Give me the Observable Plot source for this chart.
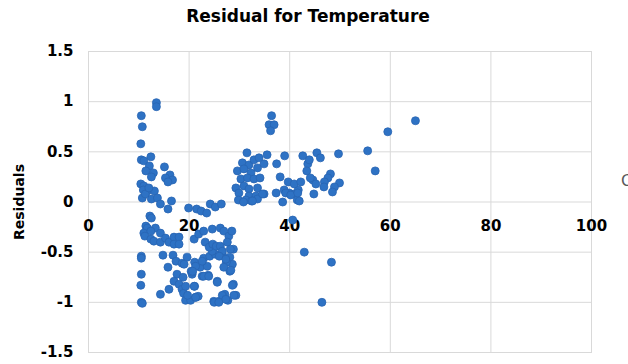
<!DOCTYPE html>
<html>
<head>
<meta charset="utf-8">
<script src="https://cdn.jsdelivr.net/npm/d3@7"></script>
<script src="https://cdn.jsdelivr.net/npm/@observablehq/plot@0.6"></script>
<style>
  html, body { margin: 0; padding: 0; background: #fff; width: 628px; height: 364px; overflow: hidden; }
  #title { position: absolute; left: 0; top: 6px; width: 616px; text-align: center;
           font: bold 17px "DejaVu Sans", sans-serif; color: #000; line-height: 20px; }
  #chart { position: absolute; left: 0; top: 36px; }
  #cut { position: absolute; left: 621px; top: 171px; font: 16px "DejaVu Sans", sans-serif; color: #595959; }
</style>
</head>
<body>
<div id="title">Residual for Temperature</div>
<div id="chart"></div>
<div id="cut">C</div>
<script>
const temperature = [
  13.5,13.5,10.5,10.7,10.4,10.5,11.0,12.4,12.1,11.4,12.9,12.5,15.1,16.2,15.3,16.7,15.8,10.4,11.0,11.7,13.1,10.9,10.7,12.5,13.7,14.3,16.5,15.8,11.3,12.0,
  19.9,21.5,22.4,23.5,24.2,25.2,26.4,
  12.2,12.5,11.4,11.7,13.3,11.0,12.4,14.3,11.2,12.4,13.0,14.3,15.3,16.0,17.0,18.0,17.0,18.0,
  10.5,10.5,10.5,10.4,10.5,10.7,
  14.8,16.8,15.8,17.4,18.6,19.6,17.6,18.8,17.0,18.0,16.0,14.3,18.6,18.9,19.3,20.3,21.3,21.8,21.1,20.6,20.4,22.6,23.8,21.1,22.2,23.6,22.9,24.1,25.2,24.6,25.6,24.9,25.9,27.1,27.7,28.8,29.3,28.1,28.6,28.1,27.4,26.6,28.8,
  21.0,21.9,22.9,24.6,23.2,24.0,24.7,25.4,26.2,26.9,27.9,28.5,27.6,26.2,26.6,28.2,26.0,27.3,26.9,28.3,19.0,20.6,21.3,22.6,22.9,23.9,25.6,21.0,28.6,26.6,27.3,28.9,25.0,25.9,19.3,19.7,21.3,20.7,
  31.5,35.5,30.6,31.9,32.9,33.9,29.6,30.9,32.3,33.6,34.9,30.3,31.6,32.9,34.1,29.3,30.9,31.9,33.6,29.9,31.9,33.3,34.9,29.8,31.3,32.4,33.6,35.9,36.9,36.2,36.4,34.6,32.6,30.8,
  37.3,38.9,39.9,40.9,41.7,38.6,37.4,39.0,38.1,39.7,40.9,42.2,41.5,42.6,43.6,43.9,44.6,45.2,44.8,45.4,46.1,43.4,44.1,48.1,47.6,46.9,46.8,49.9,48.9,48.5,49.7,39.2,40.2,41.6,41.9,
  55.5,57.0,59.5,65.0,
  40.6,42.9,48.3,46.4
];
const residual = [
  0.99,0.95,0.86,0.75,0.58,0.42,0.41,0.45,0.36,0.31,0.29,0.25,0.35,0.27,0.24,0.22,0.20,0.18,0.16,0.11,0.11,0.12,0.04,0.03,0.04,-0.02,0.01,-0.07,0.08,0.14,
  -0.06,-0.07,-0.09,-0.11,-0.02,-0.05,-0.02,
  -0.14,-0.16,-0.24,-0.26,-0.26,-0.31,-0.29,-0.31,-0.34,-0.37,-0.39,-0.40,-0.36,-0.40,-0.35,-0.35,-0.42,-0.42,
  -0.54,-0.56,-0.72,-0.83,-1.00,-1.01,
  -0.53,-0.53,-0.65,-0.59,-0.61,-0.55,-0.72,-0.75,-0.79,-0.82,-0.87,-0.92,-0.87,-0.91,-0.98,-0.98,-0.95,-0.94,-0.84,-0.72,-0.69,-0.74,-0.73,-0.60,-0.65,-0.64,-0.56,-0.54,-0.52,-0.49,-0.79,-0.99,-0.99,-0.92,-0.98,-0.82,-0.93,-0.69,-0.62,-0.55,-0.60,-0.52,-0.47,
  -0.37,-0.32,-0.29,-0.27,-0.40,-0.45,-0.42,-0.44,-0.26,-0.29,-0.34,-0.29,-0.40,-0.44,-0.49,-0.47,-0.54,-0.57,-0.65,-0.68,-0.62,-0.70,-0.64,-0.59,-0.74,-0.74,-0.80,-0.84,-0.83,-0.93,-0.97,-0.93,-1.00,-1.00,-0.84,-0.93,-0.95,-0.69,
  0.49,0.47,0.39,0.37,0.42,0.44,0.31,0.33,0.29,0.34,0.38,0.23,0.24,0.23,0.24,0.14,0.16,0.13,0.14,0.09,0.06,0.06,0.08,0.02,0.02,0.01,0.03,0.77,0.77,0.71,0.86,0.08,0.01,0.00,
  0.09,0.12,0.09,0.08,0.12,0.00,0.38,0.46,0.25,0.20,0.18,0.20,0.02,0.46,0.38,0.42,0.22,0.18,0.08,0.49,0.44,0.31,0.24,0.28,0.24,0.20,0.15,0.19,0.15,0.10,0.48,0.09,0.07,0.09,0.01,
  0.51,0.31,0.70,0.81,
  -0.18,-0.50,-0.60,-1.00
];
const xTicks = [0, 20, 40, 60, 80, 100];
const yTicks = [-1.5, -1, -0.5, 0, 0.5, 1, 1.5];
const yTitle = ["Residuals"];

const points = temperature.map((t, i) => ({t, r: residual[i]}));
const gridColor = "#d9d9d9";

const chart = Plot.plot({
  width: 628,
  height: 328,
  marginLeft: 88,
  marginRight: 37,
  marginTop: 15,
  marginBottom: 12,
  style: {fontFamily: "DejaVu Sans, sans-serif", background: "#fff", overflow: "visible"},
  x: {domain: [0, 100], ticks: xTicks, axis: null},
  y: {domain: [-1.5, 1.5], ticks: yTicks},
  marks: [
    Plot.gridX(xTicks, {stroke: gridColor, strokeOpacity: 1, strokeWidth: 1}),
    Plot.gridY(yTicks, {stroke: gridColor, strokeOpacity: 1, strokeWidth: 1}),
    Plot.frame({stroke: gridColor, strokeWidth: 1}),
    Plot.axisY(yTicks, {tickSize: 0, tickPadding: 15, tickFormat: d => String(d),
      fontSize: 15, fontWeight: "bold", fill: "#000", label: null}),
    Plot.text(xTicks, {x: d => d, y: 0, dy: 24, text: d => String(d), fontSize: 15,
      fontWeight: "bold", fill: "#000", lineAnchor: "middle", textAnchor: "middle"}),
    Plot.text(yTitle, {frameAnchor: "left", dx: -69, rotate: -90, text: d => d,
      fontSize: 14, fontWeight: "bold", fill: "#000", lineAnchor: "middle", textAnchor: "middle"}),
    Plot.dot(points, {x: "t", y: "r", r: 4, fill: "#2e72c4", stroke: "#2865b3", strokeWidth: 0.8})
  ]
});
document.getElementById("chart").appendChild(chart);
</script>
</body>
</html>
